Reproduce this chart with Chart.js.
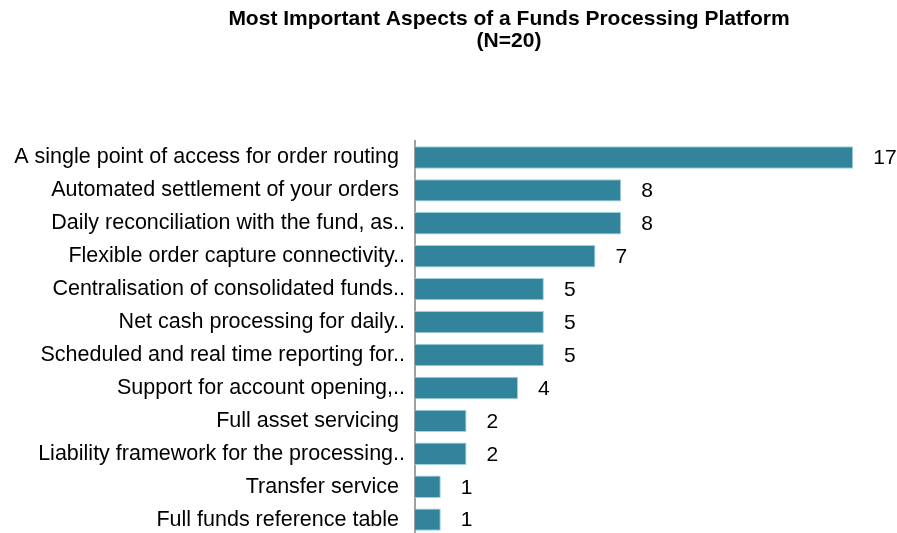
<!DOCTYPE html>
<html>
<head>
<meta charset="utf-8">
<script src="https://cdn.jsdelivr.net/npm/chart.js@4"></script>
<style>
  body { margin: 0; overflow: hidden; background: #fff; }
</style>
</head>
<body>
<canvas id="aspectsChart" width="897" height="559"></canvas>
<script>
const titleLines = ['Most Important Aspects of a Funds Processing Platform', '(N=20)'];

const aspects = [
    'A single point of access for order routing ',
    'Automated settlement of your orders ',
    'Daily reconciliation with the fund, as..',
    'Flexible order capture connectivity..',
    'Centralisation of consolidated funds..',
    'Net cash processing for daily..',
    'Scheduled and real time reporting for..',
    'Support for account opening,..',
    'Full asset servicing ',
    'Liability framework for the processing..',
    'Transfer service ',
    'Full funds reference table '
];

const responses = [17, 8, 8, 7, 5, 5, 5, 4, 2, 2, 1, 1];

const fontFamily = '"Liberation Sans", Arial, sans-serif';

// title drawn by hand, it sits right of the canvas centre in the original
const titlePlugin = {
    id: 'titleLines',
    afterDraw(chart) {
        const ctx = chart.ctx;
        ctx.save();
        ctx.fillStyle = '#000';
        ctx.font = 'bold 21px ' + fontFamily;
        ctx.textAlign = 'center';
        ctx.textBaseline = 'middle';
        ctx.fillText(titleLines[0], 509, 19);
        ctx.fillText(titleLines[1], 509, 41);
        ctx.restore();
    }
};

// value labels right of each bar
const valueLabels = {
    id: 'valueLabels',
    afterDatasetsDraw(chart) {
        const ctx = chart.ctx;
        const meta = chart.getDatasetMeta(0);
        ctx.save();
        ctx.fillStyle = '#000';
        ctx.font = '21px ' + fontFamily;
        ctx.textAlign = 'left';
        ctx.textBaseline = 'middle';
        meta.data.forEach(function (bar, i) {
            ctx.fillText(String(responses[i]), bar.x + 20, bar.y + 1);
        });
        ctx.restore();
    }
};

const ctx = document.getElementById('aspectsChart').getContext('2d');

const myChart = new Chart(ctx, {
    type: 'bar',
    data: {
        labels: aspects,
        datasets: [{
            data: responses,
            backgroundColor: '#31849B',
            borderColor: '#9FD1DE',
            borderWidth: 1,
            categoryPercentage: 1,
            barPercentage: 0.68
        }]
    },
    options: {
        indexAxis: 'y',
        responsive: false,
        animation: false,
        layout: {
            padding: { top: 141, left: 10, right: 18, bottom: 0 }
        },
        plugins: {
            legend: { display: false },
            tooltip: { enabled: false },
            title: { display: false }
        },
        scales: {
            x: {
                display: false,
                min: 0,
                max: 18
            },
            y: {
                afterFit: function (scale) { scale.width = 405; },
                grid: { display: false, drawTicks: false },
                border: { display: true, color: '#A0A0A0', width: 2 },
                ticks: {
                    autoSkip: false,
                    padding: 10,
                    color: '#000',
                    font: { family: fontFamily, size: 21.5 }
                }
            }
        }
    },
    plugins: [titlePlugin, valueLabels]
});
</script>
</body>
</html>
